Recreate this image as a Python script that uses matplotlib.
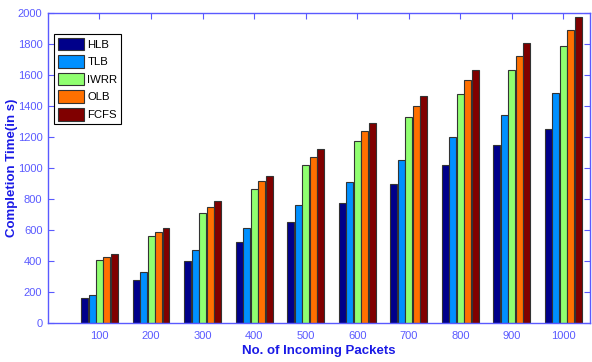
import numpy as np
import matplotlib
matplotlib.use("Agg")
import matplotlib.pyplot as plt
from matplotlib import font_manager

packets = ["100", "200", "300", "400", "500", "600", "700", "800", "900", "1000"]
series = ["HLB", "TLB", "IWRR", "OLB", "FCFS"]
hlb = [161, 280, 402, 524, 651, 774, 896, 1019, 1148, 1252]
tlb = [183, 331, 469, 615, 763, 909, 1053, 1197, 1343, 1487]
iwrr = [408, 561, 712, 864, 1019, 1176, 1331, 1480, 1634, 1786]
olb = [428, 586, 750, 913, 1073, 1238, 1402, 1567, 1724, 1889]
fcfs = [445, 614, 787, 951, 1122, 1293, 1463, 1633, 1805, 1972]
values = [hlb, tlb, iwrr, olb, fcfs]
colors = ["#00008A", "#0090FF", "#90FF70", "#FF7000", "#800000"]

axis_blue = "#5A5AFF"
label_blue = "#1A1AE6"

plt.rcParams['font.family'] = ['Liberation Sans', 'DejaVu Sans']
installed = {f.name for f in font_manager.fontManager.ttflist}
narrow = 'Liberation Sans Narrow' if 'Liberation Sans Narrow' in installed else 'Liberation Sans'

fig = plt.figure(figsize=(5.92, 3.62), dpi=100)
ax = fig.add_axes([0.081, 0.108, 0.916, 0.856])
ax.set_axisbelow(True)

x = np.arange(1, len(packets) + 1)
w = 0.135
step = 0.145
for i, (name, vals) in enumerate(zip(series, values)):
    ax.bar(x + (i - 2) * step, vals, width=w, color=colors[i],
           edgecolor="#333333", linewidth=0.8, label=name)

ax.set_xlim(0, 10.52)
ax.set_ylim(0, 2000)
ax.set_xticks(x)
ax.set_xticklabels(packets)
ax.set_yticks(np.arange(0, 2001, 200))

for s in ax.spines.values():
    s.set_color(axis_blue)
    s.set_linewidth(1.0)
ax.tick_params(direction="in", top=True, right=True, length=4,
               color=axis_blue, labelcolor=axis_blue, labelsize=8)
ax.tick_params(axis="x", pad=6)
ax.tick_params(axis="y", pad=4)
for lab in ax.get_xticklabels() + ax.get_yticklabels():
    lab.set_family(narrow)

ax.set_xlabel("No. of Incoming Packets", color=label_blue,
              fontweight="bold", fontsize=9.5)
ax.xaxis.set_label_coords(0.5, -0.072)
ax.set_ylabel("Completion Time(in s)", color=label_blue,
              fontweight="bold", fontsize=9.5)
ax.yaxis.set_label_coords(-0.056, 0.5)

leg = ax.legend(loc="upper left", bbox_to_anchor=(0.012, 0.932),
                prop={"family": narrow, "size": 8.2},
                fancybox=False, framealpha=1, edgecolor="black",
                handlelength=2.3, handleheight=1.35, handletextpad=0.3,
                labelspacing=0.42, borderpad=0.3, borderaxespad=0)
leg.get_frame().set_linewidth(0.8)

fig.savefig("out.png", dpi=100)
